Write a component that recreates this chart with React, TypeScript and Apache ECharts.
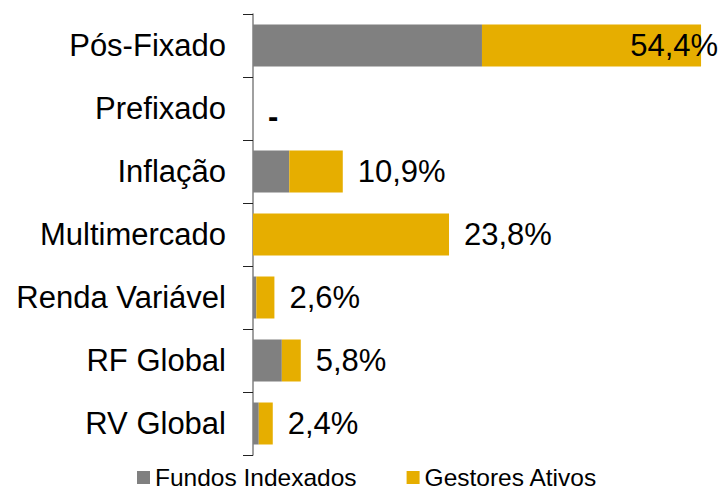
import React, { useEffect, useRef } from "react";
import * as echarts from "echarts";

const categories = ["Pós-Fixado", "Prefixado", "Inflação", "Multimercado", "Renda Variável", "RF Global", "RV Global"];
const fundosIndexados = [27.8, 0, 4.4, 0, 0.4, 3.5, 0.7];
const gestoresAtivos = [26.6, 0, 6.5, 23.8, 2.2, 2.3, 1.7];
const totalLabels = ["54,4%", "-", "10,9%", "23,8%", "2,6%", "5,8%", "2,4%"];

const FONT = "'Liberation Sans', Arial, sans-serif";

export default function App() {
  const ref = useRef<HTMLDivElement>(null);
  useEffect(() => {
    if (!ref.current) return;
    const chart = echarts.init(ref.current, undefined, { renderer: "svg" });
    chart.setOption({
      animation: false,
      textStyle: { fontFamily: FONT },
      grid: { left: 253, right: 16, top: 14, bottom: 36, containLabel: false },
      legend: {
        top: 465,
        left: 137,
        padding: 0,
        itemWidth: 13,
        itemHeight: 13,
        itemGap: 50,
        icon: "rect",
        textStyle: { fontFamily: FONT, fontSize: 24.5, lineHeight: 25, color: "#000", padding: [0, 0, 0, 0] },
        data: ["Fundos Indexados", "Gestores Ativos"],
      },
      xAxis: { type: "value", min: 0, max: 55, show: false },
      yAxis: {
        type: "category",
        data: categories,
        inverse: true,
        axisLine: { show: true, lineStyle: { color: "#808080", width: 1.5 } },
        axisTick: { show: true, length: 10, lineStyle: { color: "#222" } },
        axisLabel: { fontFamily: FONT, fontSize: 31, color: "#000", margin: 27 },
      },
      series: [
        {
          name: "Fundos Indexados",
          type: "bar",
          stack: "total",
          barWidth: 42,
          itemStyle: { color: "#808080" },
          data: fundosIndexados,
        },
        {
          name: "Gestores Ativos",
          type: "bar",
          stack: "total",
          barWidth: 42,
          itemStyle: { color: "#E6AE00" },
          label: {
            show: true,
            position: "right",
            distance: 15,
            fontFamily: FONT,
            fontSize: 31,
            color: "#000",
            formatter: (p: any) => totalLabels[p.dataIndex],
          },
          data: gestoresAtivos.map((v, i) =>
            i === 0
              ? { value: v, label: { position: "insideRight", distance: 0, offset: [17, 0] } }
              : i === 1
              ? { value: v, label: { offset: [0, 8], fontWeight: "bold" } }
              : v
          ),
        },
      ],
    });
    return () => chart.dispose();
  }, []);
  return (
    <div
      ref={ref}
      style={{ position: "fixed", left: 0, top: 0, width: 722, height: 491, background: "#fff" }}
    />
  );
}
